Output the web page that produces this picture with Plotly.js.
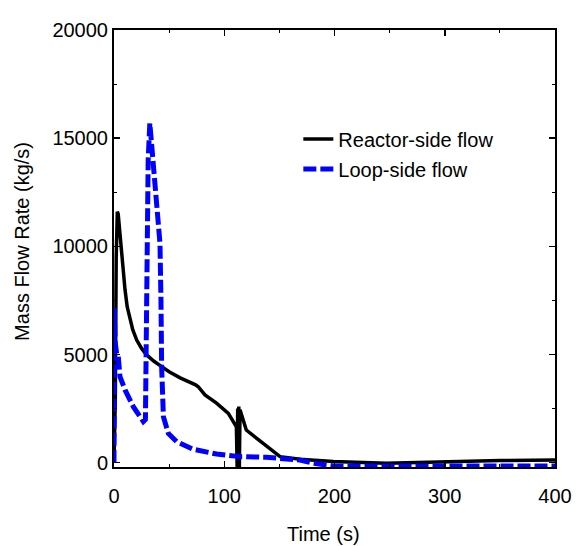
<!DOCTYPE html>
<html>
<head>
<meta charset="utf-8">
<script src="https://cdn.plot.ly/plotly-3.0.1.min.js"></script>
<style>html,body{margin:0;padding:0;background:#fff;}#chart{width:577px;height:546px;}</style>
</head>
<body>
<div id="chart"></div>
<script>
// Reactor-side flow (kg/s) vs time (s)
const reactorTime = [0, 1.2, 2.0, 3.0, 3.8, 4.5, 5.4, 6.2, 6.9, 8, 10, 12, 14.5, 17, 20.6, 25, 29.6, 36, 43.2, 50, 60, 70, 74, 76.4, 79, 82.5, 93, 103.7, 111, 111.7, 112.2, 112.7, 113.2, 113.7, 114.3, 120, 135, 150.6, 168.7, 199, 247, 302, 350, 400];
const reactorFlow = [0, 3000, 9500, 11600, 11500, 11100, 10690, 10000, 9520, 8800, 7990, 7200, 6600, 6150, 5670, 5280, 4980, 4700, 4440, 4200, 3920, 3700, 3600, 3510, 3350, 3130, 2750, 2280, 1660, -200, 2500, -200, 2590, -200, 2440, 1510, 900, 280, 160, 50, -30, 50, 100, 120];
// Loop-side flow (kg/s) vs time (s)
const loopTime = [0, 0.3, 1.0, 2.5, 3.9, 5.4, 10, 17.5, 23.6, 26.6, 28.5, 29.6, 31, 32.5, 35.7, 40, 41.7, 42.6, 43.2, 44.8, 49.3, 56.8, 71.9, 93, 114.3, 138.5, 156.6, 168.7, 181, 199, 247, 300, 350, 400];
const loopFlow = [0, 7150, 5600, 5000, 4900, 3980, 3360, 2590, 2050, 1900, 2000, 8000, 14000, 15690, 13680, 11370, 10140, 7520, 4440, 2130, 1350, 970, 620, 400, 280, 250, 200, 120, -30, -150, -150, -150, -150, -150];

const xTicks = [0, 100, 200, 300, 400];
const yTicks = [0, 5000, 10000, 15000, 20000];

const FONT = 'Liberation Sans, Arial, sans-serif';

const traces = [
  {
    x: reactorTime, y: reactorFlow, name: 'Reactor-side flow', legendgroup: 'a',
    mode: 'lines', type: 'scatter',
    line: {color: '#000000', width: 3.5}
  },
  {
    x: loopTime, y: loopFlow, name: 'Loop-side flow', legendgroup: 'b',
    mode: 'lines', type: 'scatter',
    line: {color: '#0000ff', width: 5, dash: '13px,4px'}
  }
];

const layout = {
  width: 577, height: 546,
  margin: {l: 114, r: 22, t: 30, b: 79},
  paper_bgcolor: '#ffffff', plot_bgcolor: '#ffffff',
  font: {family: FONT, size: 20, color: '#000000'},
  showlegend: true,
  legend: {
    x: 0.418, y: 0.795, xanchor: 'left', yanchor: 'top',
    bgcolor: 'rgba(0,0,0,0)', borderwidth: 0,
    font: {family: FONT, size: 20, color: '#000000'},
    traceorder: 'grouped', tracegroupgap: 1
  },
  xaxis: {
    range: [0, 400],
    tickvals: xTicks, ticktext: xTicks.map(String),
    ticks: 'inside', ticklen: 6, tickwidth: 1.5, tickcolor: '#000',
    minor: {ticks: 'inside', dtick: 50, tick0: 0, ticklen: 3, tickwidth: 1, tickcolor: '#000', showgrid: false},
    showline: true, linecolor: '#000', linewidth: 2, mirror: 'ticks',
    showgrid: false, zeroline: false, ticklabelstandoff: 10,
    tickfont: {family: FONT, size: 20, color: '#000'}
  },
  yaxis: {
    range: [-200, 20000],
    tickvals: yTicks, ticktext: yTicks.map(String),
    ticks: 'inside', ticklen: 6, tickwidth: 1.5, tickcolor: '#000',
    minor: {ticks: 'inside', dtick: 2500, tick0: 0, ticklen: 3, tickwidth: 1, tickcolor: '#000', showgrid: false},
    showline: true, linecolor: '#000', linewidth: 2, mirror: 'ticks',
    showgrid: false, zeroline: false,
    tickfont: {family: FONT, size: 20, color: '#000'}
  },
  annotations: [
    {text: 'Time (s)', xref: 'paper', yref: 'paper', x: 0.474, y: -0.153,
     xanchor: 'center', yanchor: 'middle', showarrow: false,
     font: {family: FONT, size: 20, color: '#000'}},
    {text: 'Mass Flow Rate (kg/s)', xref: 'paper', yref: 'paper', x: -0.209, y: 0.517,
     xanchor: 'center', yanchor: 'middle', textangle: -90, showarrow: false,
     font: {family: FONT, size: 20, color: '#000'}}
  ]
};

Plotly.newPlot('chart', traces, layout, {displayModeBar: false, staticPlot: true});
</script>
</body>
</html>
